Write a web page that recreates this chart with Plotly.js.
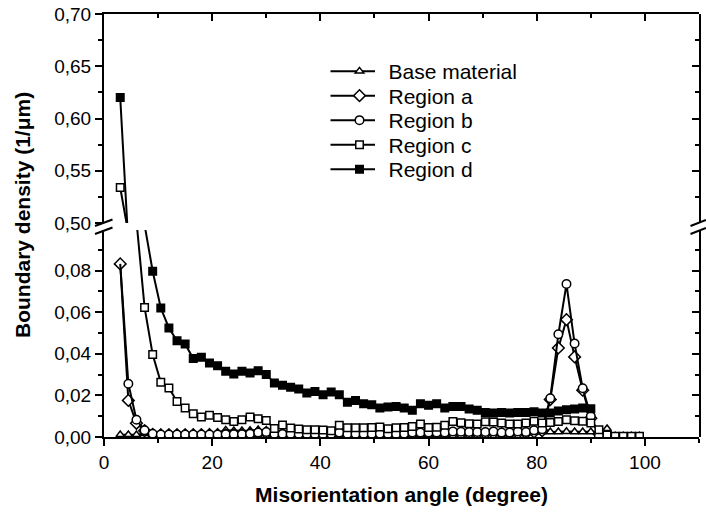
<!DOCTYPE html>
<html>
<head>
<meta charset="utf-8">
<script src="https://cdn.plot.ly/plotly-3.0.1.min.js"></script>
<style>html,body{margin:0;padding:0;background:#fff}#chart{width:706px;height:513px}</style>
</head>
<body>
<div id="chart"></div>
<script>
// Misorientation angle (degree)
const angle = [3, 4.5, 6, 7.5, 9, 10.5, 12, 13.5, 15, 16.5, 18, 19.5, 21, 22.5, 24, 25.5, 27, 28.5, 30, 31.5,
  33, 34.5, 36, 37.5, 39, 40.5, 42, 43.5, 45, 46.5, 48, 49.5, 51, 52.5, 54, 55.5, 57, 58.5, 60, 61.5,
  63, 64.5, 66, 67.5, 69, 70.5, 72, 73.5, 75, 76.5, 78, 79.5, 81, 82.5, 84, 85.5, 87, 88.5, 90, 91.5,
  93, 94.5, 96, 97.5, 99];

const baseMaterial = [0.0011, 0.0011, 0.0011, 0.0016, 0.0018, 0.0019, 0.0019, 0.0019, 0.0019, 0.0020, 0.0021, 0.0022, 0.0022, 0.0033, 0.0030, 0.0030, 0.0031, 0.0035, 0.0033, 0.0016,
  0.0016, 0.0015, 0.0015, 0.0015, 0.0015, 0.0015, 0.0015, 0.0016, 0.0015, 0.0015, 0.0015, 0.0015, 0.0015, 0.0015, 0.0015, 0.0015, 0.0016, 0.0016, 0.0016, 0.0016,
  0.0016, 0.0017, 0.0017, 0.0017, 0.0017, 0.0018, 0.0018, 0.0018, 0.0018, 0.0019, 0.0020, 0.0024, 0.0025, 0.0025, 0.0025, 0.0026, 0.0025, 0.0025, 0.0025, 0.0025,
  0.0040, 0.0005, 0.0005, 0.0005, 0.0005];

const regionA = [0.0832, 0.0176, 0.0066, 0.0030, 0.0012, 0.0010, 0.0010, 0.0010, 0.0010, 0.0010, 0.0010, 0.0010, 0.0010, 0.0010, 0.0010, 0.0010, 0.0012, 0.0016, 0.0018, 0.0011,
  0.0010, 0.0010, 0.0010, 0.0010, 0.0010, 0.0010, 0.0010, 0.0015, 0.0010, 0.0010, 0.0010, 0.0010, 0.0010, 0.0010, 0.0010, 0.0010, 0.0014, 0.0014, 0.0014, 0.0014,
  0.0014, 0.0016, 0.0016, 0.0016, 0.0016, 0.0016, 0.0018, 0.0016, 0.0016, 0.0018, 0.0018, 0.0024, 0.0030, 0.0180, 0.0428, 0.0564, 0.0385, 0.0225, 0.0090, 0.0015,
  null, null, null, null, null];

const regionB = [0.0832, 0.0256, 0.0083, 0.0032, 0.0016, 0.0012, 0.0012, 0.0012, 0.0012, 0.0012, 0.0012, 0.0012, 0.0012, 0.0013, 0.0013, 0.0013, 0.0016, 0.0022, 0.0024, 0.0015,
  0.0015, 0.0015, 0.0015, 0.0014, 0.0014, 0.0014, 0.0014, 0.0022, 0.0015, 0.0015, 0.0015, 0.0015, 0.0016, 0.0015, 0.0014, 0.0016, 0.0022, 0.0022, 0.0022, 0.0022,
  0.0022, 0.0026, 0.0025, 0.0024, 0.0024, 0.0024, 0.0027, 0.0022, 0.0022, 0.0027, 0.0024, 0.0032, 0.0037, 0.0186, 0.0494, 0.0735, 0.0449, 0.0234, 0.0100, 0.0006,
  null, null, null, null, null];

const regionC = [0.534, 0.490, 0.104, 0.0623, 0.0396, 0.0263, 0.0236, 0.0171, 0.0139, 0.0112, 0.0096, 0.0104, 0.0094, 0.0083, 0.0075, 0.0083, 0.0096, 0.0088, 0.0079, 0.0041,
  0.0058, 0.0043, 0.0038, 0.0035, 0.0035, 0.0034, 0.0030, 0.0056, 0.0045, 0.0045, 0.0045, 0.0046, 0.0048, 0.0040, 0.0044, 0.0046, 0.0051, 0.0062, 0.0046, 0.0047,
  0.0056, 0.0075, 0.0068, 0.0064, 0.0062, 0.0073, 0.0072, 0.0067, 0.0063, 0.0062, 0.0067, 0.0076, 0.0067, 0.0070, 0.0075, 0.0083, 0.0078, 0.0076, 0.0067, 0.0035,
  0.0009, 0.0003, 0.0003, 0.0003, 0.0003];

const regionD = [0.620, 0.480, 0.200, 0.102, 0.0797, 0.0620, 0.0524, 0.0463, 0.0447, 0.0377, 0.0383, 0.0356, 0.0343, 0.0316, 0.0303, 0.0316, 0.0308, 0.0319, 0.0300, 0.0260,
  0.0249, 0.0239, 0.0231, 0.0212, 0.0219, 0.0203, 0.0216, 0.0203, 0.0167, 0.0175, 0.0160, 0.0155, 0.0139, 0.0144, 0.0147, 0.0139, 0.0128, 0.0160, 0.0152, 0.0160,
  0.0139, 0.0147, 0.0147, 0.0135, 0.0128, 0.0118, 0.0115, 0.0118, 0.0115, 0.0118, 0.0118, 0.0121, 0.0115, 0.0115, 0.0125, 0.0131, 0.0135, 0.0139, 0.0136, null,
  null, null, null, null, null];

const seriesNames = ['Base material', 'Region a', 'Region b', 'Region c', 'Region d'];
const seriesValues = [baseMaterial, regionA, regionB, regionC, regionD];
const seriesSymbols = ['triangle-up', 'diamond', 'circle', 'square', 'square'];
const seriesFill = ['#ffffff', '#ffffff', '#ffffff', '#ffffff', '#000000'];
const seriesSize = [7.5, 9, 8.5, 7.5, 7.5];

const FONT = 'Liberation Sans, Arial, sans-serif';

const traces = [];
// invisible traces first, so the frame axes (top / right) get their own subplots
[['x2', 'y2', 0.6], ['x', 'y3', 0.05], ['x', 'y4', 0.6]].forEach(function (p) {
  traces.push({x: [50], y: [p[2]], xaxis: p[0], yaxis: p[1], mode: 'markers', showlegend: false,
    marker: {size: 1, opacity: 0}, hoverinfo: 'skip'});
});
['y', 'y2'].forEach(function (ya) {
  seriesNames.forEach(function (name, k) {
    let xs = angle, ys = seriesValues[k];
    if (name === 'Region b') {
      // first point of region b sits under the region a marker: draw only its line segment
      traces.push({x: angle.slice(0, 2), y: ys.slice(0, 2), xaxis: 'x', yaxis: ya, mode: 'lines',
        showlegend: false, line: {color: 'black', width: 2}, hoverinfo: 'skip'});
      xs = angle.slice(1); ys = ys.slice(1);
    }
    traces.push({
      x: xs, y: ys, name: name,
      xaxis: 'x', yaxis: ya,
      mode: 'lines+markers',
      showlegend: ya === 'y',
      line: {color: 'black', width: 2},
      marker: {symbol: seriesSymbols[k], size: seriesSize[k], color: seriesFill[k], opacity: 1,
        line: {color: '#000000', width: 1.5}},
      hoverinfo: 'x+y'
    });
  });
});

const W = 595, H = 423, L = 104, T = 14;
function px(x) { return (x - L) / W; }
function py(y) { return (T + H - y) / H; }

const lowDomain = [0, 0.4894], upDomain = [0.5059, 1];
const tickFont = {family: FONT, size: 19, color: 'black'};
const common = {showline: true, linewidth: 2, linecolor: 'black', zeroline: false, showgrid: false, tickwidth: 2, tickcolor: 'black', ticklen: 7};

const layout = {
  width: 706, height: 513,
  margin: {l: L, r: 706 - L - W, t: T, b: 513 - T - H, pad: 0},
  paper_bgcolor: 'white', plot_bgcolor: 'rgba(0,0,0,0)',
  separators: ',.',
  font: {family: FONT, color: 'black'},
  showlegend: true,
  legend: {x: px(330.5), y: py(51), xanchor: 'left', yanchor: 'top', bgcolor: 'rgba(0,0,0,0)',
    font: {family: FONT, size: 21, color: 'black'}, itemwidth: 48, tracegroupgap: 0, traceorder: 'normal'},
  xaxis: Object.assign({}, common, {
    anchor: 'y', domain: [0, 1], range: [0, 110], tick0: 0, dtick: 20, ticks: 'outside',
    minor: {dtick: 10, ticks: 'outside', ticklen: 4, tickwidth: 2, tickcolor: 'black'},
    tickfont: tickFont,
    title: {text: '<b>Misorientation angle (degree)</b>', font: {family: FONT, size: 21, color: 'black'}, standoff: 16}
  }),
  xaxis2: Object.assign({}, common, {
    anchor: 'y2', side: 'top', domain: [0, 1], range: [0, 110], tick0: 0, dtick: 20, ticks: 'inside',
    minor: {dtick: 10, ticks: 'inside', ticklen: 4, tickwidth: 2, tickcolor: 'black'},
    showticklabels: false
  }),
  yaxis: Object.assign({}, common, {
    anchor: 'x', domain: lowDomain, range: [0, 0.0995], tick0: 0, dtick: 0.02, tickformat: '.2f', ticks: 'outside',
    minor: {dtick: 0.01, ticks: 'outside', ticklen: 4, tickwidth: 2, tickcolor: 'black'},
    tickfont: tickFont
  }),
  yaxis2: Object.assign({}, common, {
    anchor: 'x', domain: upDomain, range: [0.5, 0.7], tick0: 0.5, dtick: 0.05, tickformat: '.2f', ticks: 'outside',
    minor: {dtick: 0.025, ticks: 'outside', ticklen: 4, tickwidth: 2, tickcolor: 'black'},
    tickfont: tickFont
  }),
  yaxis3: Object.assign({}, common, {
    anchor: 'x', side: 'right', domain: lowDomain, range: [0, 0.0995], tick0: 0, dtick: 0.02, ticks: 'inside',
    minor: {dtick: 0.01, ticks: 'inside', ticklen: 4, tickwidth: 2, tickcolor: 'black'},
    showticklabels: false
  }),
  yaxis4: Object.assign({}, common, {
    anchor: 'x', side: 'right', domain: upDomain, range: [0.5, 0.7], tick0: 0.5, dtick: 0.05, ticks: 'inside',
    minor: {dtick: 0.025, ticks: 'inside', ticklen: 4, tickwidth: 2, tickcolor: 'black'},
    showticklabels: false
  }),
  annotations: [{
    text: '<b>Boundary density (1/μm)</b>', xref: 'paper', yref: 'paper',
    x: px(22), y: py(215), xanchor: 'center', yanchor: 'middle', textangle: -90, showarrow: false,
    font: {family: FONT, size: 21, color: 'black'}
  }],
  shapes: [
    {type: 'line', xref: 'paper', yref: 'paper', x0: px(95), y0: py(226), x1: px(112.5), y1: py(219.5), line: {color: 'black', width: 2}},
    {type: 'line', xref: 'paper', yref: 'paper', x0: px(95), y0: py(234), x1: px(112.5), y1: py(227.5), line: {color: 'black', width: 2}},
    {type: 'line', xref: 'paper', yref: 'paper', x0: px(690.5), y0: py(226), x1: px(706), y1: py(220), line: {color: 'black', width: 2}},
    {type: 'line', xref: 'paper', yref: 'paper', x0: px(690.5), y0: py(234), x1: px(706), y1: py(228), line: {color: 'black', width: 2}}
  ]
};

Plotly.newPlot('chart', traces, layout, {displayModeBar: false}).then(function (gd) {
  // longer legend sample lines, centred on the legend marker
  gd.querySelectorAll('.legend .legendlines path').forEach(function (p) {
    p.setAttribute('d', 'M-4.5,0h49');
  });
  // tighter legend rows, as in the original
  const items = gd.querySelectorAll('.legend .traces');
  let x0 = 0, y0 = null;
  items.forEach(function (g, i) {
    const m = /translate\(([-\d.]+)[ ,]+([-\d.]+)\)/.exec(g.getAttribute('transform') || '');
    if (!m) return;
    if (y0 === null) { x0 = parseFloat(m[1]); y0 = parseFloat(m[2]); }
    g.setAttribute('transform', 'translate(' + x0 + ',' + (y0 + i * 24.5) + ')');
  });
});
</script>
</body>
</html>
